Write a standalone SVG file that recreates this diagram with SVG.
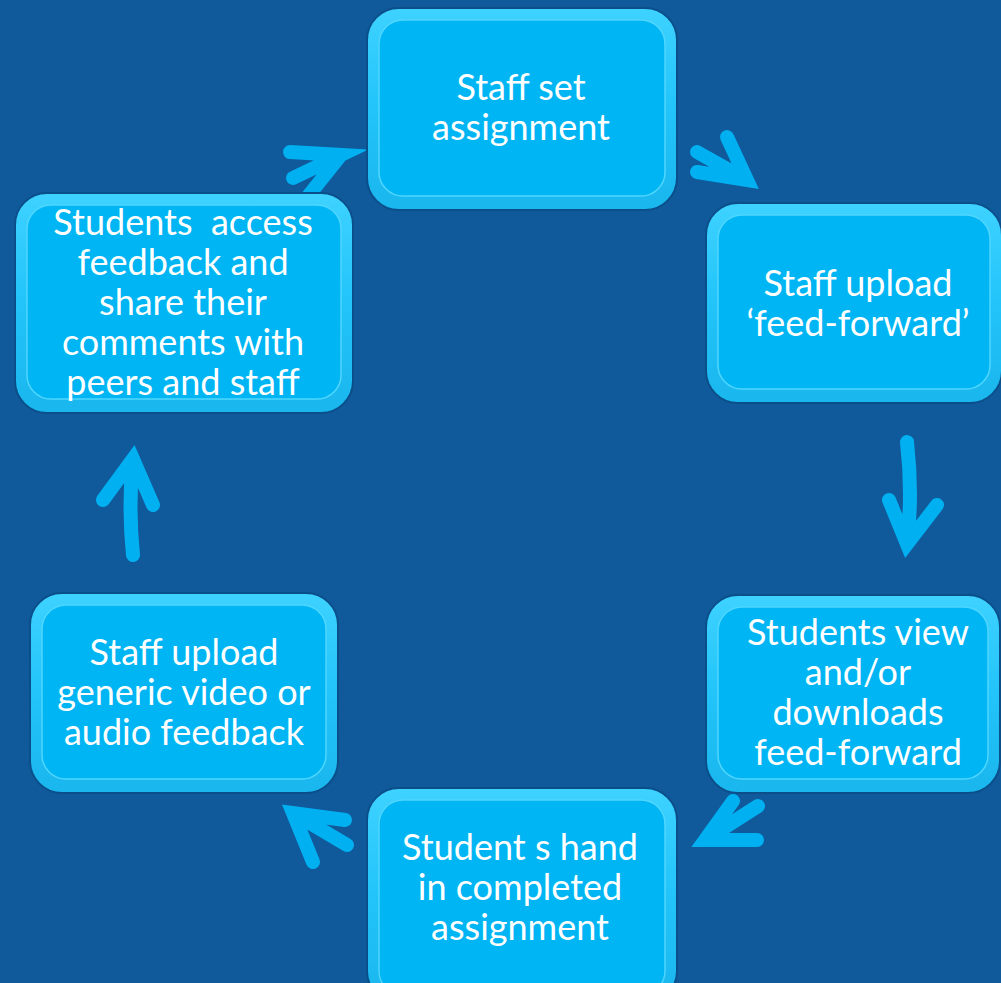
<svg xmlns="http://www.w3.org/2000/svg" width="1001" height="983" viewBox="0 0 1001 983">
<defs>
<linearGradient id="rim" x1="0" y1="0" x2="0" y2="1">
<stop offset="0" stop-color="#3ED2FF"/>
<stop offset="0.5" stop-color="#22C4FA"/>
<stop offset="1" stop-color="#1AB6EE"/>
</linearGradient>
<style>
.outer{fill:url(#rim);stroke:#0B4F8A;stroke-width:2}
.inner{fill:#00B5F3;stroke:#4FD6FF;stroke-width:1.5}
.t{font-family:Lato,"Open Sans",sans-serif;font-size:36px;fill:#FFFFFF;text-anchor:middle;white-space:pre}
.arr{fill:none;stroke:#00B0F0;stroke-width:14;stroke-linecap:round;stroke-linejoin:miter;stroke-miterlimit:10}
</style>
</defs>
<rect width="1001" height="983" fill="#10599B"/>
<g id="connectors">
<path class="arr" d="M727,137 L747,180 L697,172 M697,152 L747,180"/>
<path class="arr" d="M907,442 Q913,495 907,544 M889,500 L907,544 L937,505"/>
<path class="arr" d="M733,801 L705,840 L757,840 M758,806 L705,840"/>
<path class="arr" d="M345,820 L293,813 L313,862 M347,845 L293,813"/>
<path class="arr" d="M133,555 Q128,505 133,459 M103,500 L133,459 L153,505"/>
<path class="arr" d="M290,152 L341,155 L293,178 M305,200 L341,155"/>
</g>
<g id="n1">
<rect class="outer" x="367" y="8" width="310" height="202" rx="32"/>
<rect class="inner" x="379" y="20" width="286" height="176" rx="24"/>
<text class="t" x="521" y="100">Staff set</text>
<text class="t" x="521" y="140">assignment</text>
</g>
<g id="n2">
<rect class="outer" x="706" y="203" width="296" height="200" rx="32"/>
<rect class="inner" x="718" y="215" width="272" height="174" rx="24"/>
<text class="t" x="858" y="296">Staff upload</text>
<text class="t" x="858" y="336">‘feed-forward’</text>
</g>
<g id="n3">
<rect class="outer" x="706" y="595" width="294" height="198" rx="32"/>
<rect class="inner" x="718" y="607" width="270" height="172" rx="24"/>
<text class="t" x="858" y="645">Students view</text>
<text class="t" x="858" y="685">and/or</text>
<text class="t" x="858" y="725">downloads</text>
<text class="t" x="858" y="765">feed-forward</text>
</g>
<g id="n4">
<rect class="outer" x="367" y="788" width="310" height="215" rx="32"/>
<rect class="inner" x="379" y="800" width="286" height="195" rx="24"/>
<text class="t" x="520" y="860">Student s hand</text>
<text class="t" x="520" y="900">in completed</text>
<text class="t" x="520" y="940">assignment</text>
</g>
<g id="n5">
<rect class="outer" x="30" y="593" width="308" height="200" rx="32"/>
<rect class="inner" x="42" y="605" width="284" height="174" rx="24"/>
<text class="t" x="184" y="665">Staff upload</text>
<text class="t" x="184" y="705">generic video or</text>
<text class="t" x="184" y="745">audio feedback</text>
</g>
<g id="n6">
<rect class="outer" x="15" y="193" width="338" height="220" rx="32"/>
<rect class="inner" x="27" y="205" width="314" height="194" rx="24"/>
<text class="t" x="183" y="235">Students  access</text>
<text class="t" x="183" y="275">feedback and</text>
<text class="t" x="183" y="315">share their</text>
<text class="t" x="183" y="355">comments with</text>
<text class="t" x="183" y="395">peers and staff</text>
</g>
</svg>
